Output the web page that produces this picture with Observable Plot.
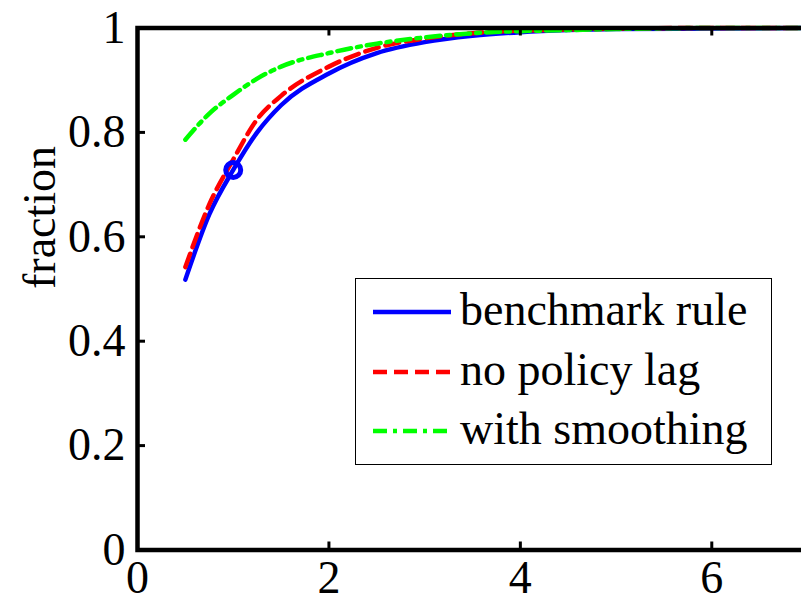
<!DOCTYPE html>
<html><head><meta charset="utf-8">
<script src="https://cdn.jsdelivr.net/npm/d3@7"></script>
<script src="https://cdn.jsdelivr.net/npm/@observablehq/plot@0.6"></script>
</head><body style="margin:0;padding:0;background:#fff;font-family:'Liberation Serif','Times New Roman',serif">
<div id="wrap" style="position:relative;width:801px;height:603px;overflow:hidden;font-family:'Liberation Serif','Times New Roman',serif"></div>
<script>
// ---- data ----
const xValues   = [0.5, 0.75, 1, 1.25, 1.5, 2, 2.5, 3, 3.5, 4, 4.5, 5, 6, 7];
const benchmark = [0.518, 0.643, 0.728, 0.800, 0.852, 0.913, 0.952, 0.973, 0.985, 0.992, 0.996, 0.998, 0.999, 1.0];
const noLag     = [0.542, 0.662, 0.748, 0.825, 0.870, 0.926, 0.962, 0.980, 0.990, 0.995, 0.997, 0.999, 1.0, 1.0];
const smoothing = [0.786, 0.836, 0.872, 0.903, 0.926, 0.952, 0.970, 0.982, 0.990, 0.994, 0.996, 0.998, 1.0, 1.0];
const seriesNames  = ["benchmark rule", "no policy lag", "with smoothing"];
const seriesColors = ["#0000ff", "#ff0000", "#00ff00"];
const seriesDash   = [null, "14,7", "14,6,4,6"];
const markerPoint  = [{x: 1, y: 0.728}];
const xTicks = [0, 2, 4, 6];
const yTicks = [0, 0.2, 0.4, 0.6, 0.8, 1];
const yTickLabels = ["0", "0.2", "0.4", "0.6", "0.8", "1"];
const yLabel = "fraction";

const seriesValues = [benchmark, noLag, smoothing];
const rows = seriesValues.map((vals, s) => xValues.map((x, i) => ({x, y: vals[i], s})));

const FONT = "'Liberation Serif','Times New Roman',serif";
const frameH = 603 - 27.5 - 53.5;
const frameW = 801 - 137 + 6;
const tickLen = 8;

const lineMarks = rows.map((r, s) => Plot.line(r, {
  x: "x", y: "y", stroke: seriesColors[s], strokeWidth: 4.5,
  strokeDasharray: seriesDash[s], curve: "monotone-x"
}));

const chart = Plot.plot({
  width: 801, height: 603,
  marginLeft: 137, marginRight: -6, marginTop: 27.5, marginBottom: 53.5,
  style: {fontFamily: FONT, fontSize: "46px", background: "white", color: "black", overflow: "hidden"},
  x: {domain: [0, 7]},
  y: {domain: [0, 1]},
  marks: [
    ...lineMarks,
    Plot.dot(markerPoint, {x: "x", y: "y", r: 7.5, stroke: seriesColors[0], strokeWidth: 5, fill: "none"}),
    Plot.frame({stroke: "black", strokeWidth: 4.5}),
    Plot.tickX(xTicks, {x: d => d, stroke: "black", strokeWidth: 3, insetTop: frameH - tickLen}),
    Plot.tickX(xTicks, {x: d => d, stroke: "black", strokeWidth: 3, insetBottom: frameH - tickLen}),
    Plot.tickY(yTicks, {y: d => d, stroke: "black", strokeWidth: 3, insetRight: frameW - tickLen}),
    Plot.axisX(xTicks, {anchor: "bottom", tickSize: 0, tickPadding: 10, label: null, fontSize: 46, fontFamily: FONT, tickFormat: d => String(d)}),
    Plot.axisY(yTicks, {anchor: "left", tickSize: 0, tickPadding: 12, label: null, fontSize: 46, fontFamily: FONT, tickFormat: (d, i) => yTickLabels[i]}),
    Plot.text([yLabel], {frameAnchor: "left", dx: -97, dy: 0, rotate: -90, fontSize: 46, fontFamily: FONT, text: d => d})
  ]
});
document.getElementById("wrap").appendChild(chart);

// legend box (HTML, inside the axes box like the reference)
const box = d3.select("#wrap").append("div")
  .style("position", "absolute").style("left", "355px").style("top", "278px")
  .style("width", "417px").style("height", "187px").style("box-sizing", "border-box")
  .style("border", "1.2px solid black").style("background", "white")
  .style("font-family", FONT).style("font-size", "46px").style("line-height", "1");
const rowY = [34, 94, 153];
seriesNames.forEach((name, i) => {
  const sw = box.append("svg").attr("width", 80).attr("height", 10)
    .style("position", "absolute").style("left", "16px").style("top", (rowY[i] - 6) + "px");
  sw.append("line").attr("x1", 1).attr("x2", 79).attr("y1", 5).attr("y2", 5)
    .attr("stroke", seriesColors[i]).attr("stroke-width", 4.5)
    .attr("stroke-dasharray", seriesDash[i]);
  box.append("div").text(name)
    .style("position", "absolute").style("left", "104px").style("top", (rowY[i] - 26) + "px")
    .style("white-space", "nowrap").style("color", "black")
    .style("font-family", FONT).style("font-size", "46px").style("line-height", "1");
});

d3.selectAll("#wrap text").style("font-family", FONT);
</script></body></html>
